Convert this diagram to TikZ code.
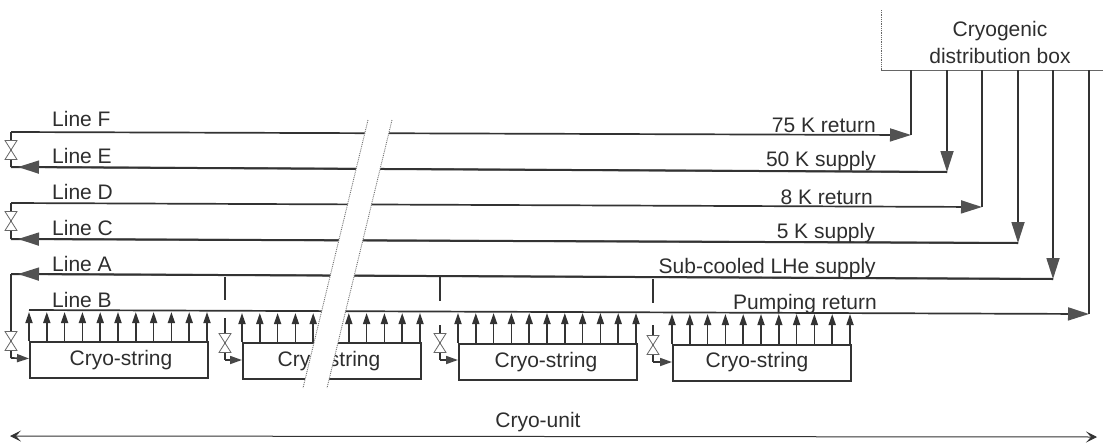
\documentclass[tikz,border=0pt]{standalone}
\usepackage{fontspec}
\setmainfont{Liberation Sans}
\usetikzlibrary{arrows.meta}
\definecolor{ink}{gray}{0.2}
\definecolor{txt}{gray}{0.18}
\tikzset{
  x=1pt,y=-1pt,
  pipe/.style={draw=ink,line width=1.7pt},
  hipipe/.style={draw=ink,line width=2pt},
  bigtip/.style={pipe,-{Triangle[length=21pt,width=13pt,color=ink!85]}},
  midtip/.style={pipe,-{Triangle[length=12pt,width=8pt,color=ink!90]}},
  uptip/.style={pipe,-{Triangle[length=11pt,width=7pt,color=ink]}},
  thin grey/.style={draw=ink!75,line width=0.8pt},
  lbl/.style={text=txt,font=\fontsize{21}{25}\selectfont,inner sep=0pt},
  llbl/.style={lbl,anchor=west},
  rlbl/.style={lbl,anchor=east},
  stringbox/.style={draw=ink,line width=2pt,minimum width=178pt,minimum height=36pt,anchor=north west,fill=white,inner sep=0pt},
  distbox/.style={draw=none,minimum width=222pt,minimum height=60pt,anchor=north west,inner sep=0pt},
  valve/.pic={\draw[thin grey,fill=white] (-6,-9.5) -- (6,-9.5) -- (-6,9.5) -- (6,9.5) -- cycle;},
  stub/.style={draw=ink,line width=1.5pt},
  breakline/.style={draw=ink!70,line width=0.9pt,densely dotted},
}
\begin{document}
\begin{tikzpicture}
\useasboundingbox (0,0) rectangle (1103,445);
% distribution box
\node[distbox] (dist) at (881,10) {};
\draw[thin grey,densely dotted] (dist.north west) -- (dist.south west);
\draw[thin grey] (dist.south west) -- (dist.south east);
\node[lbl,align=center,font=\fontsize{21}{27}\selectfont] (distlbl) at (1000,42) {Cryogenic\\distribution box};
% drops
\foreach \n/\x/\y in {F/911/135,E/947/172,D/982/207,C/1018/243,A/1053/279,B/1089/314}{
  \coordinate (top\n) at (\x,70);
  \coordinate (cor\n) at (\x,\y);
}
\coordinate (leftF) at (11,132);
\coordinate (leftE) at (11,167);
\coordinate (leftD) at (11,203);
\coordinate (leftC) at (11,239);
\coordinate (leftA) at (11,274);
\coordinate (leftB) at (29,310);
\coordinate (tipE) at (18,167);
\coordinate (tipC) at (18,239);
\coordinate (tipA) at (18,274);
\draw[pipe] (leftF) -- (leftE);
\draw[pipe] (leftD) -- (leftC);
\draw[pipe] (leftA) -- (11,358) coordinate (botA);
\draw[midtip] (botA) -- (29,358.5);
% return lines
\draw[bigtip] (leftF) -- (corF);
\draw[pipe] (topF) -- (corF);
\draw[bigtip] (leftD) -- (corD);
\draw[pipe] (topD) -- (corD);
\draw[bigtip] (leftB) -- (corB);
\draw[pipe] (topB) -- (corB);
% supply lines
\draw[bigtip] (topE) -- (corE);
\draw[hipipe] (corE) -- (leftE);
\draw[bigtip] (corE) -- (tipE);
\draw[bigtip] (topC) -- (corC);
\draw[hipipe] (corC) -- (leftC);
\draw[bigtip] (corC) -- (tipC);
\draw[bigtip] (topA) -- (corA);
\draw[hipipe] (corA) -- (leftA);
\draw[bigtip] (corA) -- (tipA);
% valves on the loops
\pic at (11,150) {valve};
\pic at (11,221) {valve};
\pic at (11,341) {valve};
% cryo-strings
\foreach \i/\bx/\by/\lineB in {1/29/341/311,2/242/342/312,3/458/343/312,4/672/344/313}{
  \node[stringbox] (s\i) at (\bx,\by) {};
  \foreach \k in {0,...,10}{
    \pgfmathsetmacro{\xx}{\bx+\k*17.8}
    \coordinate (foot\i-\k) at (\xx,\by);
    \coordinate (head\i-\k) at (\xx,\lineB+1);
    \draw[uptip] (foot\i-\k) -- (head\i-\k);
  }
}
\node[lbl] (t1) at (121,360) {Cryo-string};
\node[lbl] (t2) at (329,361) {Cryo-string};
\node[lbl] (t3) at (546,362) {Cryo-string};
\node[lbl] (t4) at (757,362) {Cryo-string};
% feeds with valves
\foreach \i/\x/\ya/\yb/\yt/\yv/\yf/\xt in {1/225/277/300/318/343/360/242,2/440/277/301/325/343/360/458,3/653/279/303/325/345/362/672}{
  \coordinate (stA\i) at (\x,\ya);
  \coordinate (stB\i) at (\x,\yb);
  \draw[stub] (stA\i) -- (stB\i);
  \coordinate (vtop\i) at (\x,\yt);
  \coordinate (vbot\i) at (\x,\yf);
  \draw[stub] (vtop\i) -- (vbot\i);
  \pic at (\x,\yv) {valve};
  \draw[midtip] (vbot\i) -- (\xt,\yf);
}
% break
\coordinate (b1t) at (368,120);
\coordinate (b1b) at (303,388);
\coordinate (b2t) at (392,120);
\coordinate (b2b) at (327,388);
\fill[white] (b1t) -- (b2t) -- (b2b) -- (b1b) -- cycle;
\draw[breakline] (b1t) -- (b1b);
\draw[breakline] (b2t) -- (b2b);
% labels
\node[llbl] (lF) at (52,119) {Line F};
\node[llbl] (lE) at (52,156) {Line E};
\node[llbl] (lD) at (52,192) {Line D};
\node[llbl] (lC) at (52,228) {Line C};
\node[llbl] (lA) at (52,264) {Line A};
\node[llbl] (lB) at (52,300) {Line B};
\node[rlbl] (r1) at (876,125) {75 K return};
\node[rlbl] (r2) at (876,161) {50 K supply};
\node[rlbl] (r3) at (873,197) {8 K return};
\node[rlbl] (r4) at (875,233) {5 K supply};
\node[rlbl] (r5) at (876,268) {Sub-cooled LHe supply};
\node[rlbl] (r6) at (877,304) {Pumping return};
% cryo-unit
\node[lbl] (unit) at (538,422) {Cryo-unit};
\coordinate (uL) at (10,436);
\coordinate (uR) at (1097,437);
\draw[draw=ink,line width=1pt,{Stealth[length=11pt,width=11pt,inset=5pt]}-{Stealth[length=11pt,width=11pt,inset=5pt]}] (uL) -- (uR);
\end{tikzpicture}
\end{document}
